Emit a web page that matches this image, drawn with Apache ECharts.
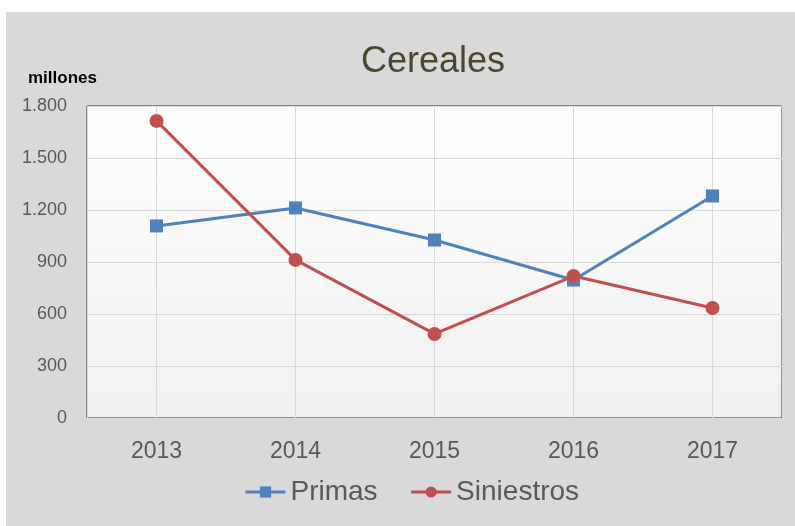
<!DOCTYPE html>
<html>
<head>
<meta charset="utf-8">
<script src="https://cdn.jsdelivr.net/npm/echarts@6/dist/echarts.min.js"></script>
<style>
  body { margin: 0; background: #ffffff; }
  #chart { position: absolute; left: 6px; top: 12px; width: 789px; height: 514px; background: #d9d9d9; }
</style>
</head>
<body>
<div id="chart"></div>
<script>
// datos
const years = [2013, 2014, 2015, 2016, 2017]
const primas = [1108, 1212, 1027, 796, 1281]
const siniestros = [1714, 912, 485, 819, 635]
const yMax = 1800

const pair = (vals) => years.map((y, i) => [y, vals[i]])
const fmtMiles = (v) => String(v).replace(/\B(?=(\d{3})+(?!\d))/g, '.')

const font = 'Liberation Sans, Arial, sans-serif'
let myChart = echarts.init(document.getElementById('chart'))
myChart.setOption({
    animation: false,
    textStyle: { fontFamily: font },
    title: [
        {
            text: 'Cereales',
            left: 350, top: 27,
            textStyle: { color: '#4a4630', fontSize: 36, fontWeight: 'normal', fontFamily: font }
        },
        {
            text: 'millones',
            left: 17, top: 53,
            textStyle: { color: '#000', fontSize: 17, fontWeight: 'bold', fontFamily: font }
        }
    ],
    legend: {
        bottom: 15,
        left: 233,
        itemWidth: 40,
        itemHeight: 14,
        itemGap: 32,
        textStyle: { color: '#595959', fontSize: 28, fontFamily: font },
        lineStyle: { width: 3 },
        data: ['Primas', 'Siniestros']
    },
    grid: {
        left: 81, top: 94, right: 13, bottom: 108,
        show: true,
        borderColor: '#333333',
        borderWidth: 1,
        backgroundColor: new echarts.graphic.LinearGradient(0, 0, 0, 1, [
            { offset: 0, color: '#ffffff' },
            { offset: 1, color: '#f0f0f0' }
        ])
    },
    xAxis: {
        type: 'value',
        min: 2012.5,
        max: 2017.5,
        splitNumber: 5,
        axisLine: { show: false },
        axisTick: { show: false },
        axisLabel: {
            color: '#595959', fontSize: 23, margin: 22,
            showMinLabel: false, showMaxLabel: false,
            formatter: (v) => (Number.isInteger(v) ? String(v) : '')
        },
        splitLine: { show: true, lineStyle: { color: '#d9d9d9' } }
    },
    yAxis: {
        type: 'value',
        min: 0,
        max: yMax,
        interval: 300,
        axisLine: { show: false },
        axisTick: { show: false },
        axisLabel: { color: '#595959', fontSize: 18, margin: 20, formatter: fmtMiles },
        splitLine: { lineStyle: { color: '#d9d9d9' } }
    },
    series: [
        {
            name: 'Primas',
            type: 'line',
            data: pair(primas),
            symbol: 'rect',
            symbolSize: 13,
            color: '#4f81bd',
            lineStyle: { width: 3 }
        },
        {
            name: 'Siniestros',
            type: 'line',
            data: pair(siniestros),
            symbol: 'circle',
            symbolSize: 14,
            color: '#c0504d',
            lineStyle: { width: 3 }
        }
    ]
})
</script>
</body>
</html>
